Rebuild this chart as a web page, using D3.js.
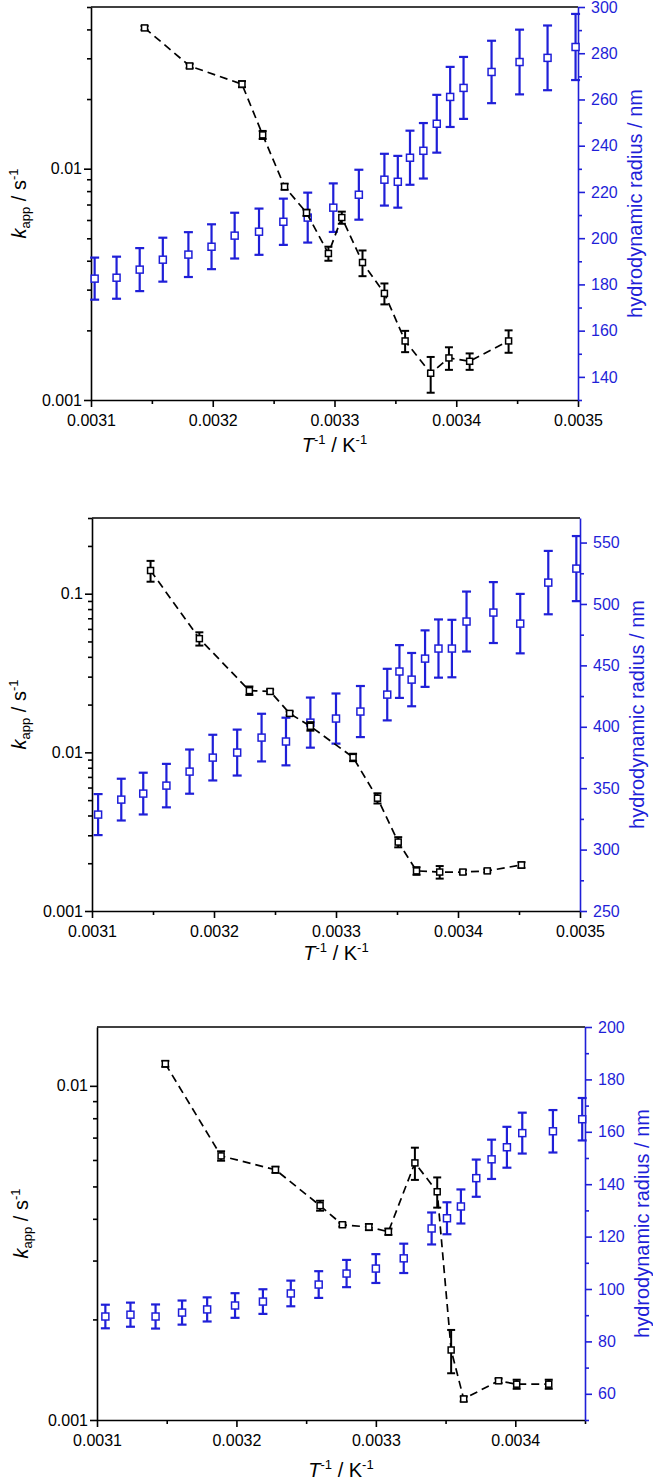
<!DOCTYPE html>
<html><head><meta charset="utf-8">
<script src="https://cdn.jsdelivr.net/npm/d3@7"></script>
<style>
body{margin:0;background:#fff}
svg{display:block}
text{font-family:"Liberation Sans",Arial,sans-serif}
</style>
</head><body>
<svg id="chart" width="653" height="1481"></svg>
<script>
// ---------------- DATA ----------------
// Panel 1
const p1KX   = [0.003144,0.003181,0.003224,0.003241,0.003259,0.003277,0.003295,0.003306,0.003323,0.003341,0.003358,0.003379,0.003394,0.003411,0.003443];
const p1K    = [0.0406,0.0278,0.0232,0.0140,0.00836,0.00645,0.0043,0.00615,0.00393,0.00289,0.00180,0.001305,0.00152,0.00147,0.00180];
const p1KErr = [0.0008,0.0006,0.0007,0.00056,0.00025,0.0002,0.0003,0.00037,0.0005,0.0003,0.00019,0.00023,0.00017,0.00012,0.0002];
const p1RX   = [0.003103,0.003121,0.003140,0.003159,0.003180,0.003199,0.003218,0.003238,0.003258,0.003278,0.003299,0.003320,0.003341,0.003352,0.003362,0.003373,0.003384,0.003395,0.003406,0.003429,0.003452,0.003475,0.003498];
const p1R    = [182.5,182.9,186.4,190.7,192.9,196.3,201.1,202.8,207.1,208.9,213.2,218.8,225.3,224.4,234.8,237.8,249.5,261.1,265.0,271.9,276.2,278.0,282.7];
const p1RErr = [9.1,9.1,9.3,9.5,9.7,9.7,9.9,10.0,10.0,10.8,10.5,10.8,11.2,11.2,11.7,12.0,12.5,13.0,13.4,13.5,14.0,14.0,14.3];
const p1XTicks = [0.0031,0.0032,0.0033,0.0034,0.0035];
const p1KTicks = [0.001,0.01];
const p1RTicks = [140,160,180,200,220,240,260,280,300];

// Panel 2
const p2KX   = [0.003148,0.003188,0.003229,0.003246,0.003262,0.003279,0.003314,0.003334,0.003351,0.003366,0.003385,0.003404,0.003424,0.003452];
const p2K    = [0.140,0.0521,0.0245,0.0242,0.0176,0.0146,0.0093,0.00514,0.00272,0.00179,0.00176,0.00176,0.00179,0.00195];
const p2KErr = [0.021,0.005,0.0015,0.0007,0.0005,0.0009,0.0005,0.00038,0.0002,0.0001,0.00016,0.00005,0.00004,0.00008];
const p2RX   = [0.003105,0.003124,0.003142,0.003161,0.003180,0.003199,0.003219,0.003239,0.003259,0.003279,0.003300,0.003320,0.003342,0.003352,0.003362,0.003373,0.003384,0.003395,0.003407,0.003429,0.003451,0.003474,0.003497];
const p2R    = [328.5,340.7,345.6,352.1,363.5,374.9,379.0,391.2,388.0,403.4,406.7,412.4,426.2,445.0,438.4,455.5,463.7,463.7,485.7,493.0,484.0,517.4,528.8];
const p2RErr = [16.7,17,17,17.7,18,18.6,18.7,19.4,19.4,20.4,20.4,20.8,21,21.5,21.7,23,23.7,23.4,24.4,24.8,24.2,25.8,26.5];
const p2XTicks = [0.0031,0.0032,0.0033,0.0034,0.0035];
const p2KTicks = [0.001,0.01,0.1];
const p2RTicks = [250,300,350,400,450,500,550];

// Panel 3
const p3KX   = [0.003149,0.003189,0.003228,0.003260,0.003276,0.003295,0.003309,0.003328,0.003344,0.003354,0.003363,0.003388,0.003401,0.003424];
const p3K    = [0.01164,0.00617,0.00561,0.00438,0.00384,0.00378,0.00366,0.00588,0.00482,0.00162,0.001156,0.00131,0.00128,0.00128];
const p3KErr = [0.00024,0.0002,0.00012,0.00015,0.00005,0.00008,0.00008,0.00065,0.0005,0.00024,0.00002,0.00002,0.00004,0.00004];
const p3RX   = [0.003106,0.003124,0.003142,0.003161,0.003179,0.003199,0.003219,0.003239,0.003259,0.003279,0.003300,0.003320,0.003340,0.003351,0.003361,0.003372,0.003383,0.003394,0.003405,0.003427,0.003448];
const p3R    = [89.5,90.2,89.5,91.0,92.2,93.7,95.2,98.3,101.7,105.9,107.8,111.7,123.1,127.0,131.5,142.3,149.5,154.1,159.5,160.2,164.8];
const p3RErr = [4.5,4.6,4.6,4.6,4.6,4.7,4.7,4.9,5.1,5.2,5.5,5.6,6.1,6.1,6.5,7.1,7.5,7.8,7.8,8.1,8.1];
const p3XTicks = [0.0031,0.0032,0.0033,0.0034];
const p3KTicks = [0.001,0.01];
const p3RTicks = [60,80,100,120,140,160,180,200];

// ---------------- DRAWING ----------------
const BLUE = "#1f1fd8";
const svg = d3.select("#chart");

function logMinor(dom) {
  const out = [];
  const e0 = Math.floor(Math.log10(dom[0])), e1 = Math.ceil(Math.log10(dom[1]));
  for (let e = e0; e <= e1; e++) for (let m = 2; m <= 9; m++) {
    const v = +(m * Math.pow(10, e)).toPrecision(6);
    if (v >= dom[0] * 0.9999 && v <= dom[1] * 1.0001) out.push(v);
  }
  return out;
}
function linMinor(ticks, dom) {
  const step = ticks[1] - ticks[0];
  const s = new Set();
  ticks.forEach(t => [t - step / 2, t + step / 2].forEach(v => {
    const r = +v.toPrecision(8);
    if (r >= dom[0] - step * 1e-6 && r <= dom[1] + step * 1e-6) s.add(r);
  }));
  return [...s].filter(v => !ticks.some(t => Math.abs(t - v) < step * 1e-6));
}

function styleAxis(sel, color) {
  sel.select(".domain").attr("stroke", color).attr("stroke-width", 1.6);
  sel.selectAll(".tick line").attr("stroke", color).attr("stroke-width", 1.6);
  sel.selectAll(".tick text").attr("fill", color).attr("font-size", 16)
     .attr("font-family", '"Liberation Sans", Arial, sans-serif');
}

function drawPanel(o) {
  const g = svg.append("g");
  const x = d3.scaleLinear().domain(o.xDomain).range([o.left, o.right]);
  const y = d3.scaleLog().domain(o.kDomain).range([o.bottom, o.top]);
  const yr = d3.scaleLinear().domain(o.rDomain).range([o.bottom, o.top]);

  // top frame line
  g.append("line").attr("x1", o.left).attr("x2", o.right).attr("y1", o.top).attr("y2", o.top)
    .attr("stroke", "#000").attr("stroke-width", 1.6);

  // bottom axis
  const gx = g.append("g").attr("transform", `translate(0,${o.bottom})`)
    .call(d3.axisBottom(x).tickValues(o.xTicks).tickFormat(d3.format(".4f")).tickSize(7).tickSizeOuter(0).tickPadding(8));
  styleAxis(gx, "#000");
  const gxm = g.append("g").attr("transform", `translate(0,${o.bottom})`)
    .call(d3.axisBottom(x).tickValues(linMinor(o.xTicks, o.xDomain)).tickFormat("").tickSize(4).tickSizeOuter(0));
  gxm.select(".domain").remove(); styleAxis(gxm, "#000");

  // left log axis
  const gy = g.append("g").attr("transform", `translate(${o.left},0)`)
    .call(d3.axisLeft(y).tickValues(o.kTicks).tickFormat(d => String(d)).tickSize(7).tickSizeOuter(0).tickPadding(2));
  styleAxis(gy, "#000");
  const gym = g.append("g").attr("transform", `translate(${o.left},0)`)
    .call(d3.axisLeft(y).tickValues(logMinor(o.kDomain)).tickFormat("").tickSize(4).tickSizeOuter(0));
  gym.select(".domain").remove(); styleAxis(gym, "#000");

  // right axis
  const gr = g.append("g").attr("transform", `translate(${o.right},0)`)
    .call(d3.axisRight(yr).tickValues(o.rTicks).tickFormat(d3.format("d")).tickSize(7).tickSizeOuter(0).tickPadding(6));
  styleAxis(gr, BLUE);
  const grm = g.append("g").attr("transform", `translate(${o.right},0)`)
    .call(d3.axisRight(yr).tickValues(linMinor(o.rTicks, o.rDomain)).tickFormat("").tickSize(4).tickSizeOuter(0));
  grm.select(".domain").remove(); styleAxis(grm, BLUE);

  // blue series (radius)
  const rData = o.rx.map((v, i) => ({x: v, y: o.r[i], e: o.rErr[i]}));
  const bg = g.append("g");
  bg.selectAll("line.eb").data(rData).join("line")
    .attr("x1", d => x(d.x)).attr("x2", d => x(d.x))
    .attr("y1", d => yr(d.y - d.e)).attr("y2", d => yr(d.y + d.e))
    .attr("stroke", BLUE).attr("stroke-width", 2.2);
  ["-", "+"].forEach(sgn => {
    bg.selectAll("line.cap" + (sgn === "-" ? "l" : "u")).data(rData).join("line")
      .attr("x1", d => x(d.x) - 4.5).attr("x2", d => x(d.x) + 4.5)
      .attr("y1", d => yr(sgn === "-" ? d.y - d.e : d.y + d.e))
      .attr("y2", d => yr(sgn === "-" ? d.y - d.e : d.y + d.e))
      .attr("stroke", BLUE).attr("stroke-width", 2.2);
  });
  bg.selectAll("rect").data(rData).join("rect")
    .attr("x", d => x(d.x) - 3.5).attr("y", d => yr(d.y) - 3.5)
    .attr("width", 7).attr("height", 7)
    .attr("fill", "#fff").attr("stroke", BLUE).attr("stroke-width", 1.5);

  // black series (k)
  const kData = o.kx.map((v, i) => ({x: v, y: o.k[i], e: o.kErr[i]}));
  const kg = g.append("g");
  kg.append("path").datum(kData)
    .attr("d", d3.line().x(d => x(d.x)).y(d => y(d.y)))
    .attr("fill", "none").attr("stroke", "#000").attr("stroke-width", 1.7)
    .attr("stroke-dasharray", "8,5");
  kg.selectAll("line.eb").data(kData).join("line")
    .attr("x1", d => x(d.x)).attr("x2", d => x(d.x))
    .attr("y1", d => y(d.y - d.e)).attr("y2", d => y(d.y + d.e))
    .attr("stroke", "#000").attr("stroke-width", 2);
  ["-", "+"].forEach(sgn => {
    kg.selectAll("line.cap" + (sgn === "-" ? "l" : "u")).data(kData).join("line")
      .attr("x1", d => x(d.x) - 4).attr("x2", d => x(d.x) + 4)
      .attr("y1", d => y(sgn === "-" ? d.y - d.e : d.y + d.e))
      .attr("y2", d => y(sgn === "-" ? d.y - d.e : d.y + d.e))
      .attr("stroke", "#000").attr("stroke-width", 2);
  });
  kg.selectAll("rect").data(kData).join("rect")
    .attr("x", d => x(d.x) - 3).attr("y", d => y(d.y) - 3)
    .attr("width", 6).attr("height", 6)
    .attr("fill", "#fff").attr("stroke", "#000").attr("stroke-width", 1.5);

  // axis titles
  const cy = (o.top + o.bottom) / 2, cx = (o.left + o.right) / 2;
  const lt = g.append("text").attr("transform", `translate(${o.leftTitleX},${cy}) rotate(-90)`)
    .attr("text-anchor", "middle").attr("font-size", 20).attr("fill", "#000");
  lt.append("tspan").attr("font-style", "italic").text("k");
  lt.append("tspan").attr("font-size", 13).attr("dy", 4).text("app");
  lt.append("tspan").attr("dy", -4).text(" / s");
  lt.append("tspan").attr("font-size", 13).attr("dy", -8).text("-1");

  g.append("text").attr("transform", `translate(${o.rightTitleX},${cy}) rotate(-90)`)
    .attr("text-anchor", "middle").attr("font-size", 20).attr("fill", BLUE)
    .text("hydrodynamic radius / nm");

  const xt = g.append("text").attr("x", cx).attr("y", o.xTitleY)
    .attr("text-anchor", "middle").attr("font-size", 20).attr("fill", "#000");
  xt.append("tspan").attr("font-style", "italic").text("T");
  xt.append("tspan").attr("font-size", 13).attr("dy", -8).text("-1");
  xt.append("tspan").attr("dy", 8).text(" / K");
  xt.append("tspan").attr("font-size", 13).attr("dy", -8).text("-1");
}

drawPanel({left: 91, right: 578, top: 7, bottom: 400,
  xDomain: [0.0031, 0.0035], kDomain: [0.001, 0.05], rDomain: [130, 300],
  xTicks: p1XTicks, kTicks: p1KTicks, rTicks: p1RTicks,
  kx: p1KX, k: p1K, kErr: p1KErr, rx: p1RX, r: p1R, rErr: p1RErr,
  leftTitleX: 26, rightTitleX: 642, xTitleY: 452});

drawPanel({left: 92, right: 580, top: 518, bottom: 911,
  xDomain: [0.0031, 0.0035], kDomain: [0.001, 0.3], rDomain: [250, 570],
  xTicks: p2XTicks, kTicks: p2KTicks, rTicks: p2RTicks,
  kx: p2KX, k: p2K, kErr: p2KErr, rx: p2RX, r: p2R, rErr: p2RErr,
  leftTitleX: 26, rightTitleX: 644, xTitleY: 960});

drawPanel({left: 97, right: 585, top: 1027, bottom: 1420,
  xDomain: [0.0031, 0.00345], kDomain: [0.001, 0.015], rDomain: [50, 200],
  xTicks: p3XTicks, kTicks: p3KTicks, rTicks: p3RTicks,
  kx: p3KX, k: p3K, kErr: p3KErr, rx: p3RX, r: p3R, rErr: p3RErr,
  leftTitleX: 28, rightTitleX: 649, xTitleY: 1477});
</script>
</body></html>
